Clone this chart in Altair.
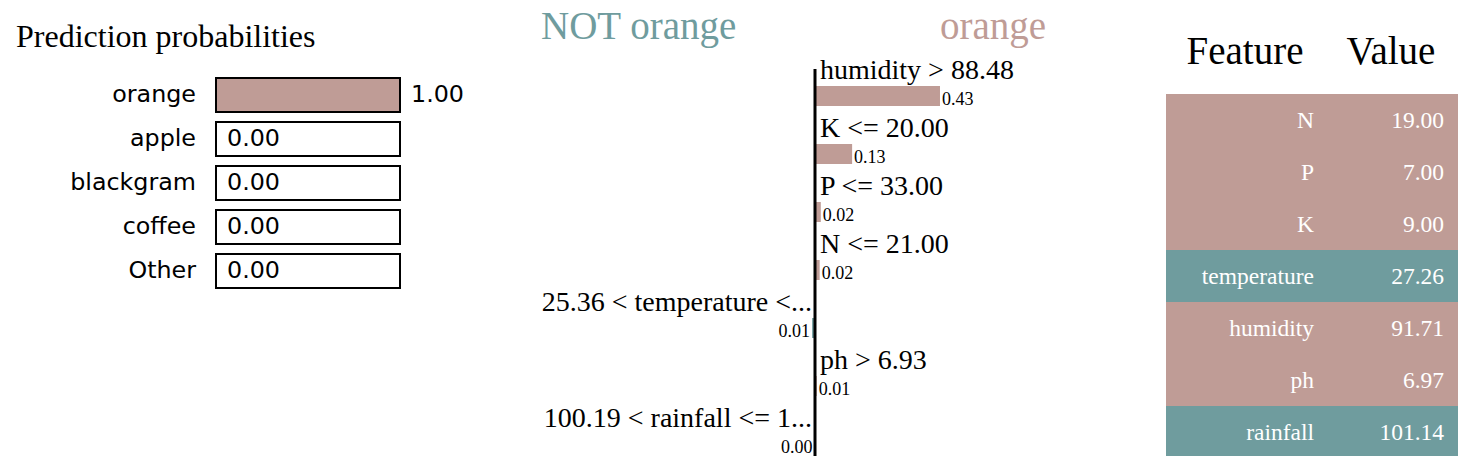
import altair as alt
import pandas as pd

ROSE = "#BF9C96"
TEAL = "#6F9C9E"
SERIF = "Liberation Serif"
SANS = "DejaVu Sans"

# ---- data ----
classes = ["orange", "apple", "blackgram", "coffee", "Other"]
probs = [1.00, 0.00, 0.00, 0.00, 0.00]

feat_labels = ["humidity > 88.48", "K <= 20.00", "P <= 33.00", "N <= 21.00",
               "25.36 < temperature <...", "ph > 6.93", "100.19 < rainfall <= 1..."]
feat_keys = ["humidity", "K", "P", "N", "temperature", "ph", "rainfall"]
feat_weights = [0.431, 0.128, 0.020, 0.016, -0.010, 0.006, -0.002]

table_features = ["N", "P", "K", "temperature", "humidity", "ph", "rainfall"]
table_values = [19.00, 7.00, 9.00, 27.26, 91.71, 6.97, 101.14]

pos_name = "orange"
neg_name = "NOT orange"
side_scale = alt.Scale(domain=[pos_name, neg_name], range=[ROSE, TEAL])

# ---- panel 1: prediction probabilities ----
df1 = pd.DataFrame({
    "cls": classes,
    "prob": probs,
    "zero": [0.0] * len(classes),
    "one": [1.0] * len(classes),
    "ptxt": [f"{p:.2f}" for p in probs],
})
W1, H = 480, 448
xs1 = alt.Scale(domain=[-208 / 184, (W1 - 208) / 184])
ys1 = alt.Scale(range=[63, 283], paddingInner=10 / 44, paddingOuter=5 / 44)
base1 = alt.Chart(df1).encode(
    y=alt.Y("cls:N", sort=classes, scale=ys1, axis=None)
)
bars1 = base1.mark_bar(color=ROSE).encode(x=alt.X("prob:Q", scale=xs1, axis=None))
box1 = base1.mark_bar(fillOpacity=0, stroke="black", strokeWidth=2).encode(
    x=alt.X("one:Q", scale=xs1, axis=None))
lab1 = base1.mark_text(align="right", baseline="middle", dx=-20, font=SANS,
                       fontSize=23.8, color="black").encode(
    x=alt.X("zero:Q", scale=xs1, axis=None), text="cls:N")
val1 = base1.mark_text(align="left", baseline="middle", dx=11, font=SANS,
                       fontSize=23.8, color="black").encode(
    x=alt.X("prob:Q", scale=xs1, axis=None), text="ptxt:N")
title1 = alt.Chart(pd.DataFrame({"t": ["Prediction probabilities"]})).mark_text(
    align="left", baseline="alphabetic", font=SERIF, fontSize=32, color="black"
).encode(x=alt.value(8), y=alt.value(37), text="t:N")
panel1 = alt.layer(bars1, box1, lab1, val1, title1).properties(width=W1, height=H)

# ---- panel 2: explanation ----
df2 = pd.DataFrame({
    "label": feat_labels,
    "weight": feat_weights,
    "zero": [0.0] * len(feat_labels),
    "wtxt": [f"{abs(w):.2f}" for w in feat_weights],
    "side": [pos_name if w > 0 else neg_name for w in feat_weights],
})
W2 = 678
ZERO2, PPU = 327, 290
xs2 = alt.Scale(domain=[-ZERO2 / PPU, (W2 - ZERO2) / PPU])
ys2 = alt.Scale(range=[76, 444], paddingInner=38 / 58, paddingOuter=0)
base2 = alt.Chart(df2).encode(
    y=alt.Y("label:N", sort=feat_labels, scale=ys2, axis=None)
)
bars2 = base2.mark_bar().encode(
    x=alt.X("weight:Q", scale=xs2, axis=None),
    color=alt.Color("side:N", scale=side_scale, legend=None),
)
pos_lab = base2.transform_filter("datum.weight > 0").mark_text(
    align="left", baseline="alphabetic", dx=5, dy=-17, font=SERIF, fontSize=28,
    color="black").encode(x=alt.X("zero:Q", scale=xs2, axis=None), text="label:N")
neg_lab = base2.transform_filter("datum.weight <= 0").mark_text(
    align="right", baseline="alphabetic", dx=-3, dy=-17, font=SERIF, fontSize=28,
    color="black").encode(x=alt.X("zero:Q", scale=xs2, axis=None), text="label:N")
pos_val = base2.transform_filter("datum.weight > 0").mark_text(
    align="left", baseline="alphabetic", dx=2, dy=9, font=SERIF, fontSize=18,
    color="black").encode(x=alt.X("weight:Q", scale=xs2, axis=None), text="wtxt:N")
neg_val = base2.transform_filter("datum.weight <= 0").mark_text(
    align="right", baseline="alphabetic", dx=-2, dy=9, font=SERIF, fontSize=18,
    color="black").encode(x=alt.X("weight:Q", scale=xs2, axis=None), text="wtxt:N")
axis_rule = alt.Chart(pd.DataFrame({"zero": [0.0]})).mark_rule(
    color="black", strokeWidth=3).encode(
    x=alt.X("zero:Q", scale=xs2, axis=None), y=alt.value(59), y2=alt.value(H))
hdr_neg = alt.Chart(pd.DataFrame({"t": [neg_name]})).mark_text(
    align="left", baseline="alphabetic", font=SERIF, fontSize=39, color=TEAL
).encode(x=alt.value(53), y=alt.value(29), text="t:N")
hdr_pos = alt.Chart(pd.DataFrame({"t": [pos_name]})).mark_text(
    align="right", baseline="alphabetic", font=SERIF, fontSize=39, color=ROSE
).encode(x=alt.value(558), y=alt.value(29), text="t:N")
panel2 = alt.layer(bars2, axis_rule, pos_lab, neg_lab, pos_val, neg_val,
                   hdr_neg, hdr_pos).properties(width=W2, height=H)

# ---- panel 3: feature / value table ----
wmap = dict(zip(feat_keys, feat_weights))
rows = []
for f, v in zip(table_features, table_values):
    s = pos_name if wmap[f] > 0 else neg_name
    rows.append({"feature": f, "column": "Feature", "txt": f, "side": s})
    rows.append({"feature": f, "column": "Value", "txt": f"{v:.2f}", "side": s})
df3 = pd.DataFrame(rows)
W3 = 292
xs3 = alt.Scale(domain=["Feature", "Value"], paddingInner=0, paddingOuter=0)
ys3 = alt.Scale(range=[84, 448], paddingInner=0, paddingOuter=0)
base3 = alt.Chart(df3).encode(
    x=alt.X("column:N", scale=xs3, axis=None),
    y=alt.Y("feature:N", sort=table_features, scale=ys3, axis=None),
)
rect3 = base3.mark_rect().encode(color=alt.Color("side:N", scale=side_scale, legend=None))
ftxt = base3.transform_filter("datum.column == 'Feature'").mark_text(
    align="right", baseline="alphabetic", dx=75, dy=8, font=SERIF, fontSize=23.5,
    color="white").encode(text="txt:N")
vtxt = base3.transform_filter("datum.column == 'Value'").mark_text(
    align="right", baseline="alphabetic", dx=59, dy=8, font=SERIF, fontSize=23.5,
    color="white").encode(text="txt:N")
hdr3 = alt.Chart(pd.DataFrame({"column": ["Feature", "Value"]})).mark_text(
    align="center", baseline="alphabetic", dx=6, font=SERIF, fontSize=39,
    color="black").encode(x=alt.X("column:N", scale=xs3, axis=None),
                          y=alt.value(54), text="column:N")
panel3 = alt.layer(rect3, ftxt, vtxt, hdr3).properties(width=W3, height=H)

chart = alt.hconcat(panel1, panel2, panel3, spacing=0).properties(
    padding=0
).configure_view(strokeWidth=0).configure_concat(spacing=0)

chart.save("out.html", embed_options={"renderer": "svg", "actions": False})
